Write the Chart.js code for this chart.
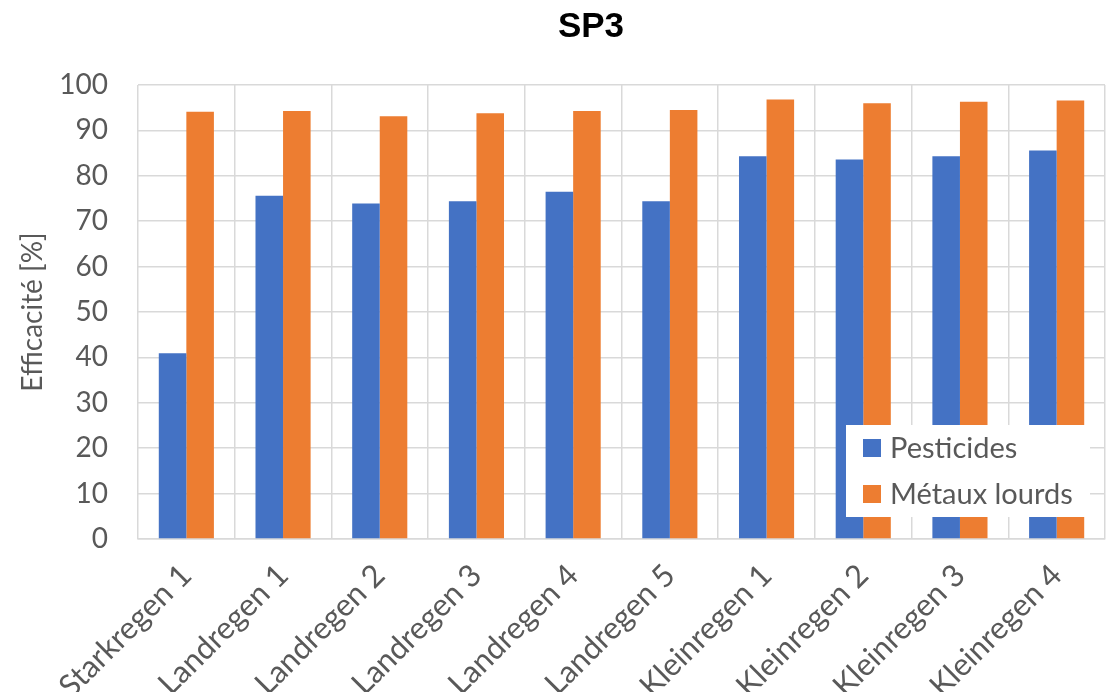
<!DOCTYPE html>
<html>
<head>
<meta charset="utf-8">
<script src="https://cdn.jsdelivr.net/npm/chart.js@4.4.1/dist/chart.umd.min.js"></script>
<style>
  html, body { margin: 0; padding: 0; background: #fff; overflow: hidden; }
  #wrap { width: 1111px; height: 692px; }
</style>
</head>
<body>
<div id="wrap"><canvas id="myChart" width="1111" height="692"></canvas></div>
<script>
const categories = ["Starkregen 1", "Landregen 1", "Landregen 2", "Landregen 3", "Landregen 4",
                    "Landregen 5", "Kleinregen 1", "Kleinregen 2", "Kleinregen 3", "Kleinregen 4"];
const pesticides = [40.9, 75.6, 73.9, 74.4, 76.5, 74.4, 84.3, 83.6, 84.3, 85.6];
const metauxLourds = [94.1, 94.3, 93.1, 93.8, 94.3, 94.5, 96.8, 96.0, 96.3, 96.6];
const yTicks = [0, 10, 20, 30, 40, 50, 60, 70, 80, 90, 100];
const chartTitle = "SP3";

const textColor = "#595959";
const gridColor = "#d9d9d9";
const font = "Lato, 'Open Sans', sans-serif";

// title (placed like the original, a bit right of centre) and legend box inside the plot
const decorations = {
    id: "decorations",
    afterDraw(chart) {
        const ctx = chart.ctx;
        const area = chart.chartArea;
        ctx.save();
        ctx.fillStyle = "#000";
        ctx.font = "bold 35px 'Liberation Sans', Arial, sans-serif";
        ctx.textAlign = "center";
        ctx.textBaseline = "middle";
        ctx.fillText(chartTitle, 591, 27);

        const x = area.right - 259, y = area.bottom - 114;
        ctx.fillStyle = "#fff";
        ctx.fillRect(x, y, 244, 92);
        ctx.font = "29px " + font;
        ctx.textAlign = "left";
        chart.data.datasets.forEach((ds, i) => {
            const cy = y + 23 + i * 46;
            ctx.fillStyle = ds.backgroundColor;
            ctx.fillRect(x + 17, cy - 9, 18, 18);
            ctx.fillStyle = textColor;
            ctx.fillText(ds.label, x + 44, cy + 1);
        });
        ctx.restore();
    }
};

new Chart("myChart", {
    type: "bar",
    data: {
        labels: categories,
        datasets: [{
            label: "Pesticides",
            data: pesticides,
            backgroundColor: "#4472C4"
        }, {
            label: "Métaux lourds",
            data: metauxLourds,
            backgroundColor: "#ED7D31"
        }]
    },
    options: {
        responsive: false,
        animation: false,
        events: [],
        layout: { padding: { left: 0, right: 6, top: 85, bottom: 0 } },
        datasets: { bar: { categoryPercentage: 0.57, barPercentage: 1.0 } },
        plugins: {
            legend: { display: false },
            tooltip: { enabled: false },
            title: { display: false }
        },
        scales: {
            x: {
                grid: { color: gridColor, lineWidth: 1.5, offset: true, drawTicks: false },
                border: { color: gridColor, width: 1.5 },
                ticks: {
                    color: textColor,
                    font: { family: font, size: 31 },
                    maxRotation: 45,
                    minRotation: 45,
                    padding: 18,
                    autoSkip: false
                },
                afterFit(scale) { scale.height = 153; }
            },
            y: {
                min: 0,
                max: 100,
                afterBuildTicks(scale) { scale.ticks = yTicks.map(v => ({ value: v })); },
                grid: { color: gridColor, lineWidth: 1.5, drawTicks: false },
                border: { display: false },
                ticks: {
                    color: textColor,
                    font: { family: font, size: 28 },
                    padding: 30
                },
                title: {
                    display: true,
                    text: "Efficacité [%]",
                    color: textColor,
                    font: { family: font, size: 28 },
                    padding: { top: 16, bottom: 0 }
                },
                afterFit(scale) { scale.width = 138; }
            }
        }
    },
    plugins: [decorations]
});
</script>
</body>
</html>
